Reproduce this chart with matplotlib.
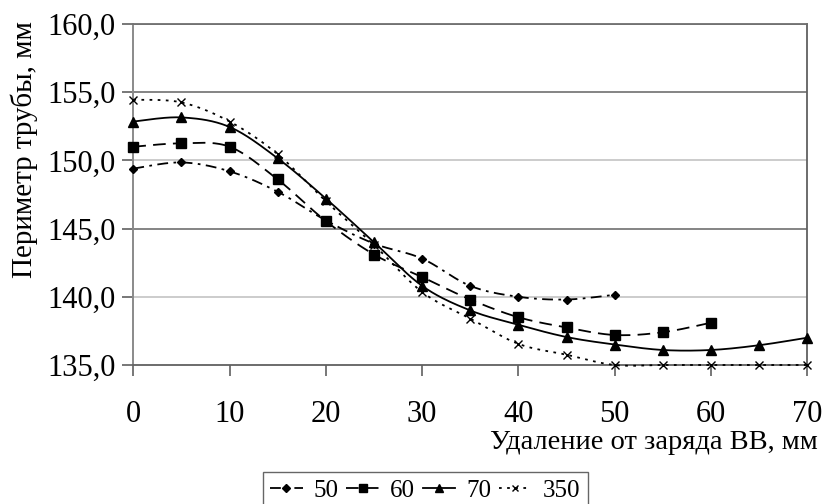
import numpy as np
import matplotlib
matplotlib.use("Agg")
import matplotlib.pyplot as plt
from matplotlib.ticker import FuncFormatter

plt.rcParams['font.family'] = ['Liberation Serif', 'DejaVu Serif']

# ---- data ----
x_50 = [0, 5, 10, 15, 20, 25, 30, 35, 40, 45, 50]
y_50 = [149.4, 149.85, 149.2, 147.7, 145.6, 143.9, 142.8, 140.8, 140.0, 139.8, 140.15]
x_60 = [0, 5, 10, 15, 20, 25, 30, 35, 40, 45, 50, 55, 60]
y_60 = [151.0, 151.25, 151.0, 148.6, 145.55, 143.1, 141.45, 139.8, 138.5, 137.75, 137.2, 137.4, 138.1]
x_70 = [0, 5, 10, 15, 20, 25, 30, 35, 40, 45, 50, 55, 60, 65, 70]
y_70 = [152.85, 153.15, 152.45, 150.15, 147.2, 144.0, 140.8, 139.0, 137.95, 137.05, 136.5, 136.1, 136.1, 136.45, 137.0]
x_350 = [0, 5, 10, 15, 20, 25, 30, 35, 40, 45, 50, 55, 60, 65, 70]
y_350 = [154.45, 154.25, 152.85, 150.45, 147.0, 143.8, 140.35, 138.4, 136.55, 135.75, 135.0, 135.0, 135.0, 135.0, 135.0]
series_labels = ['50', '60', '70', '350']
x_ticks = [0, 10, 20, 30, 40, 50, 60, 70]
y_ticks = [135, 140, 145, 150, 155, 160]
x_label = 'Удаление от заряда ВВ, мм'
y_label = 'Периметр трубы, мм'


def smooth(xs, ys, n=20):
    """Excel-style smoothed curve (cubic Bezier, tension 1/6)."""
    P = np.column_stack([xs, ys]).astype(float)
    out = [P[0]]
    t = np.linspace(0, 1, n)[1:]
    for i in range(len(P) - 1):
        p0 = P[i - 1] if i > 0 else P[i]
        p1 = P[i]
        p2 = P[i + 1]
        p3 = P[i + 2] if i + 2 < len(P) else P[i + 1]
        c1 = p1 + (p2 - p0) / 6.0
        c2 = p2 - (p3 - p1) / 6.0
        for tt in t:
            b = ((1 - tt) ** 3) * p1 + 3 * ((1 - tt) ** 2) * tt * c1 + 3 * (1 - tt) * tt ** 2 * c2 + tt ** 3 * p2
            out.append(b)
    out = np.array(out)
    return out[:, 0], out[:, 1]


fig = plt.figure(figsize=(8.24, 5.04), dpi=100)
ax = fig.add_axes([0.1618, 0.2758, 0.8179, 0.6766])

# gridlines
grid_dark = '#707070'
grid_light = '#c4c4c4'
for v in y_ticks[1:]:
    col = grid_light if v in (140, 150) else grid_dark
    ax.axhline(v, color=col, lw=1.2, zorder=0.5)

specs = [
    (x_50, y_50, (0, (6, 3, 1.5, 3)), 'D', 4.5, series_labels[0]),
    (x_60, y_60, (0, (7, 4)), 's', 6.5, series_labels[1]),
    (x_70, y_70, '-', '^', 7, series_labels[2]),
    (x_350, y_350, (0, (1.5, 3)), 'x', 6, series_labels[3]),
]
handles = []
for xs, ys, ls, mk, ms, lab in specs:
    sx, sy = smooth(xs, ys)
    ax.plot(sx, sy, color='black', lw=1.3, ls=ls, zorder=3, clip_on=False)
    ax.plot(xs, ys, ls='none', marker=mk, ms=ms, color='black',
            mec='black', mew=1.0, zorder=4, clip_on=False)
    h, = ax.plot([], [], color='black', lw=1.3, ls=ls, marker=mk, ms=ms * 0.8, mew=1.0)
    handles.append(h)

ax.set_xlim(0, 70)
ax.set_ylim(135, 160)
ax.set_xticks(x_ticks)
ax.set_yticks(y_ticks)
ax.yaxis.set_major_formatter(FuncFormatter(lambda v, p: f'{v:.1f}'.replace('.', ',')))
ax.tick_params(axis='both', direction='out', length=8, width=1.2, color='#606060',
               labelsize=22, pad=5)
ax.tick_params(axis='x', pad=17)

ax.spines['left'].set_color('#8a8a8a')
ax.spines['left'].set_linewidth(1.4)
ax.spines['bottom'].set_color('#606060')
ax.spines['bottom'].set_linewidth(1.3)
ax.spines['right'].set_color('#606060')
ax.spines['right'].set_linewidth(1.3)
ax.spines['top'].set_color('#707070')
ax.spines['top'].set_linewidth(1.3)

ax.set_xlabel(x_label, fontsize=20.5, ha='right')
ax.xaxis.set_label_coords(1.016, -0.192)
ax.set_ylabel(y_label, fontsize=21)
ax.yaxis.set_label_coords(-0.141, 0.633)

leg = fig.legend(handles, series_labels, loc='upper center', bbox_to_anchor=(0.516, 0.064),
                 ncol=4, fontsize=18, frameon=True, fancybox=False, edgecolor='#404040',
                 handlelength=1.3, handletextpad=0.45, columnspacing=0.3, borderpad=0.3,
                 borderaxespad=0)
leg.get_frame().set_linewidth(1.0)

fig.savefig('out.png', dpi=100)
